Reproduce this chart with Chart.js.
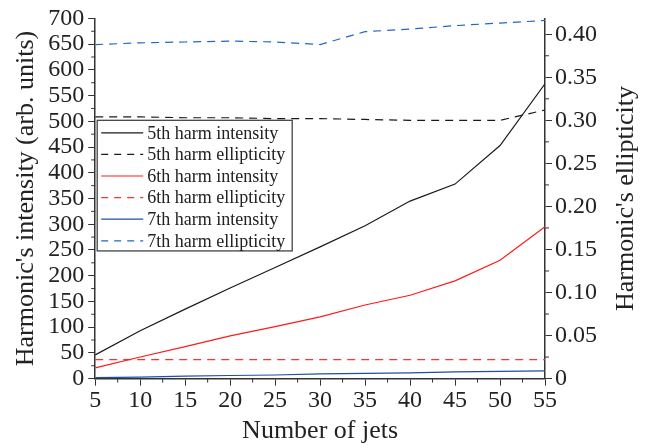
<!DOCTYPE html>
<html>
<head>
<meta charset="utf-8">
<script src="https://cdn.jsdelivr.net/npm/chart.js@4.4.1/dist/chart.umd.min.js"></script>
<style>
  html, body { margin: 0; padding: 0; background: #fff; }
  #wrap { width: 646px; height: 445px; position: relative; }
</style>
</head>
<body>
<div id="wrap"><canvas id="myChart"></canvas></div>
<script>
// numero de jets (eje x)
const jets = [5, 10, 15, 20, 25, 30, 35, 40, 45, 50, 55];

// intensidades (eje izquierdo)
const int5 = [46, 93, 135, 176, 216, 256, 297, 345, 378, 453, 573];
const int6 = [21, 42, 62, 83, 101, 120, 143, 162, 190, 230, 295];
const int7 = [2, 3, 5, 6, 7, 9, 10, 11, 13, 14, 15];

// elipticidades (eje derecho)
const ell5 = [0.304, 0.304, 0.303, 0.303, 0.302, 0.302, 0.301, 0.300, 0.300, 0.300, 0.312];
const ell6 = [0.022, 0.022, 0.022, 0.022, 0.022, 0.022, 0.022, 0.022, 0.022, 0.022, 0.022];
const ell7 = [0.388, 0.390, 0.391, 0.392, 0.391, 0.388, 0.403, 0.406, 0.410, 0.413, 0.416];

const FONT = "'Liberation Serif', 'Times New Roman', serif";

const series = [
  { label: '5th harm intensity',   data: int5, color: '#1a1a1a', dash: [],     axis: 'y'  },
  { label: '5th harm ellipticity', data: ell5, color: '#1a1a1a', dash: [8, 6], axis: 'y1' },
  { label: '6th harm intensity',   data: int6, color: '#ff1a1a', dash: [],     axis: 'y'  },
  { label: '6th harm ellipticity', data: ell6, color: '#ff3030', dash: [8, 6], axis: 'y1' },
  { label: '7th harm intensity',   data: int7, color: '#1f4fa3', dash: [],     axis: 'y'  },
  { label: '7th harm ellipticity', data: ell7, color: '#2266c4', dash: [8, 6], axis: 'y1' }
];

// ticks menores a medio camino entre los mayores
const minorTicks = {
  id: 'minorTicks',
  afterDraw(chart) {
    const ctx = chart.ctx;
    ctx.save();
    ctx.strokeStyle = '#333';
    ctx.lineWidth = 1;
    const xs = chart.scales.x;
    for (let v = 7.5; v < 55; v += 5) {
      const px = xs.getPixelForValue(v);
      ctx.beginPath(); ctx.moveTo(px, xs.top); ctx.lineTo(px, xs.top + 4); ctx.stroke();
    }
    const yl = chart.scales.y;
    for (let v = 25; v < 700; v += 50) {
      const py = yl.getPixelForValue(v);
      ctx.beginPath(); ctx.moveTo(yl.right, py); ctx.lineTo(yl.right - 4, py); ctx.stroke();
    }
    const yr = chart.scales.y1;
    for (let v = 0.025; v < 0.418; v += 0.05) {
      const py = yr.getPixelForValue(v);
      ctx.beginPath(); ctx.moveTo(yr.left, py); ctx.lineTo(yr.left + 4, py); ctx.stroke();
    }
    ctx.restore();
  }
};

// titulo del eje derecho, leido de abajo hacia arriba
const rightTitle = {
  id: 'rightTitle',
  afterDraw(chart) {
    const ctx = chart.ctx;
    const a = chart.chartArea;
    ctx.save();
    ctx.translate(626, (a.top + a.bottom) / 2);
    ctx.rotate(-Math.PI / 2);
    ctx.font = '26px ' + FONT;
    ctx.fillStyle = '#222';
    ctx.textAlign = 'center';
    ctx.textBaseline = 'middle';
    ctx.fillText("Harmonic's ellipticity", 0, 0);
    ctx.restore();
  }
};

// leyenda dentro del area del grafico
const boxLegend = {
  id: 'boxLegend',
  afterDraw(chart) {
    const ctx = chart.ctx;
    const a = chart.chartArea;
    const x0 = a.left + 2, y0 = chart.scales.y.getPixelForValue(500) - 1;
    const w = 195, rowH = 21.6, h = rowH * series.length + 1;
    ctx.save();
    ctx.fillStyle = '#fff';
    ctx.fillRect(x0, y0, w, h);
    ctx.strokeStyle = '#444';
    ctx.lineWidth = 1.3;
    ctx.strokeRect(x0, y0, w, h);
    ctx.font = '18px ' + FONT;
    ctx.textBaseline = 'middle';
    series.forEach((s, i) => {
      const cy = y0 + 12.5 + i * rowH;
      ctx.strokeStyle = s.color;
      ctx.lineWidth = 1.2;
      ctx.setLineDash(s.dash.length ? [7, 6] : []);
      ctx.beginPath(); ctx.moveTo(x0 + 4, cy); ctx.lineTo(x0 + 46, cy); ctx.stroke();
      ctx.setLineDash([]);
      ctx.fillStyle = '#222';
      ctx.fillText(s.label, x0 + 50, cy + 1);
    });
    ctx.restore();
  }
};

function crearGrafica() {
  const ctx = document.getElementById('myChart').getContext('2d');
  new Chart(ctx, {
    type: 'line',
    data: {
      labels: jets,
      datasets: series.map(s => ({
        label: s.label,
        data: s.data.map((v, i) => ({ x: jets[i], y: v })),
        borderColor: s.color,
        borderWidth: 1.2,
        borderDash: s.dash,
        pointRadius: 0,
        tension: 0,
        fill: false,
        yAxisID: s.axis
      }))
    },
    options: {
      responsive: true,
      maintainAspectRatio: false,
      animation: false,
      layout: { padding: { left: 11, right: 46, top: 15, bottom: 0 } },
      plugins: {
        legend: { display: false },
        tooltip: { enabled: false }
      },
      scales: {
        x: {
          type: 'linear',
          min: 5, max: 55,
          ticks: { stepSize: 5, autoSkip: false, color: '#222', font: { family: FONT, size: 24 }, padding: 1, maxRotation: 0 },
          grid: { drawOnChartArea: false, drawTicks: true, tickLength: 7, color: '#333' },
          border: { color: '#333', width: 1.5 },
          title: { display: true, text: 'Number of jets', color: '#222', font: { family: FONT, size: 26, lineHeight: 1.1 }, padding: { top: 0, bottom: 0 } }
        },
        y: {
          position: 'left',
          min: 0, max: 700,
          ticks: { stepSize: 50, autoSkip: false, color: '#222', font: { family: FONT, size: 24 }, padding: 4 },
          grid: { drawOnChartArea: false, drawTicks: true, tickLength: 7, color: '#333' },
          border: { color: '#333', width: 1.5 },
          title: { display: true, text: "Harmonic's intensity (arb. units)", color: '#222', font: { family: FONT, size: 26 }, padding: { top: 0, bottom: 2 } }
        },
        y1: {
          position: 'right',
          min: 0, max: 0.4184,
          afterBuildTicks: scale => {
            scale.ticks = scale.ticks.filter(t => Math.abs(t.value / 0.05 - Math.round(t.value / 0.05)) < 1e-6);
          },
          ticks: {
            stepSize: 0.05, includeBounds: false, autoSkip: false, color: '#222', font: { family: FONT, size: 24 }, padding: 3,
            callback: v => (Math.abs(v) < 1e-9 ? '0' : v.toFixed(2))
          },
          grid: { drawOnChartArea: false, drawTicks: true, tickLength: 7, color: '#333' },
          border: { color: '#333', width: 1.5 },
          title: { display: false }
        }
      }
    },
    plugins: [minorTicks, boxLegend, rightTitle]
  });
}

document.addEventListener('DOMContentLoaded', function() {
  const loads = ['24px "Liberation Serif"', '18px "Liberation Serif"'].map(f => document.fonts.load(f));
  Promise.all(loads).then(crearGrafica, crearGrafica);
});
</script>
</body>
</html>
